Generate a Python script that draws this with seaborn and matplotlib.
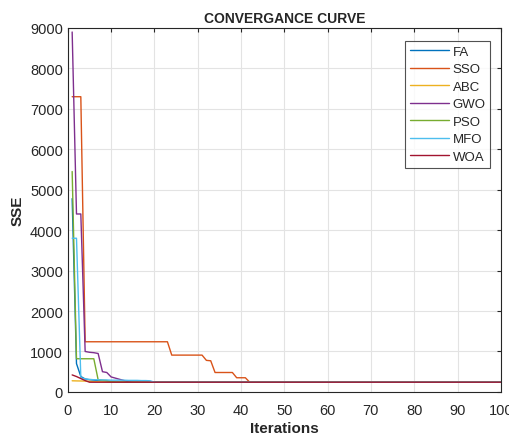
import numpy as np
import pandas as pd
import matplotlib
matplotlib.use("Agg")
import matplotlib.pyplot as plt
import seaborn as sns

# values: early iterations, then the value they settle at
n_iter = 100
final_sse = 240
names = ["FA", "SSO", "ABC", "GWO", "PSO", "MFO", "WOA"]
colors = ["#0072BD", "#D95319", "#EDB120", "#7E2F8E", "#77AC30", "#4DBEEE", "#A2142F"]

fa_head = [4780, 700, 380, 320, 300, 290, 280, 270, 262, 256, 250, 248, 245]
sso_head = [7300, 7300, 7300] + [1240] * 20 + [910] * 8 + [780, 770] + [480] * 5 + [350] * 3
abc_head = [275, 272, 270, 268, 262, 255, 250, 248, 245]
gwo_head = [8900, 4400, 4400, 1000, 980, 970, 950, 500, 480, 370, 340, 310, 280, 250]
pso_head = [5450, 820, 820, 820, 820, 820, 300, 290, 280, 250]
mfo_head = [3800, 3800, 350, 320, 310, 300, 300, 295, 295, 290, 290, 290, 290, 285, 285, 285, 280, 280, 275]
woa_head = [420, 380, 330, 280]

heads = [fa_head, sso_head, abc_head, gwo_head, pso_head, mfo_head, woa_head]

rows = []
for name, head in zip(names, heads):
    vals = head + [final_sse] * (n_iter - len(head))
    for i, v in enumerate(vals):
        rows.append((i + 1, v, name))
df = pd.DataFrame(rows, columns=["Iterations", "SSE", "Algorithm"])

sns.set_style("whitegrid")
plt.rcParams['font.family'] = ['Liberation Sans', 'DejaVu Sans']

fig = plt.figure(figsize=(5.1, 4.39), dpi=100)
ax = fig.add_axes([0.133, 0.105, 0.849, 0.829])
sns.lineplot(data=df, x="Iterations", y="SSE", hue="Algorithm", palette=colors,
             hue_order=names, linewidth=1.0, ax=ax)

ax.set_xlim(0, 100)
ax.set_ylim(0, 9000)
ax.set_xticks(np.arange(0, 101, 10))
ax.set_yticks(np.arange(0, 9001, 1000))
ax.grid(True, color="#e3e3e3", linewidth=0.8)
for s in ax.spines.values():
    s.set_color("#262626")
    s.set_linewidth(0.8)
ax.tick_params(direction="in", top=True, right=True, length=3, labelsize=10.5,
               colors="#262626", width=0.8)
ax.tick_params(axis="x", pad=8)
ax.set_xlabel("Iterations", fontsize=11, fontweight="bold", labelpad=3)
ax.set_ylabel("SSE", fontsize=11, fontweight="bold", labelpad=4)
ax.set_title("CONVERGANCE CURVE", fontsize=10, fontweight="bold", pad=4)

leg = ax.legend(loc="upper right", bbox_to_anchor=(0.985, 0.975), fontsize=9.5,
                frameon=True, fancybox=False, handlelength=3.0, handletextpad=0.25,
                labelspacing=0.4, borderpad=0.35, borderaxespad=0.3)
leg.get_frame().set_edgecolor("#262626")
leg.get_frame().set_linewidth(0.8)

fig.savefig("out.png", dpi=100)
